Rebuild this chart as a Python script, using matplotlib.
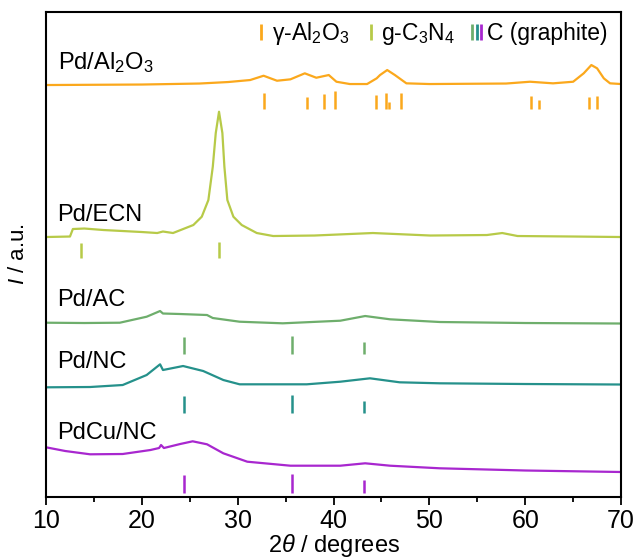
import matplotlib
matplotlib.use('Agg')
import matplotlib.pyplot as plt
from matplotlib.lines import Line2D
from matplotlib.legend_handler import HandlerTuple

plt.rcParams['font.family'] = ['Liberation Sans', 'DejaVu Sans']
plt.rcParams['mathtext.fontset'] = 'custom'
plt.rcParams['mathtext.rm'] = 'Liberation Sans'
plt.rcParams['mathtext.it'] = 'Liberation Sans:italic'

# colours of the five patterns
c_al = '#FBA81C'
c_ecn = '#B7CA48'
c_ac = '#6EAE6C'
c_nc = '#25918B'
c_cu = '#A827CF'

# XRD traces (2theta, stacked intensity in a.u.)
al_x = [10, 20, 26, 29, 31.3, 32.7, 34.1, 35.5, 37.0, 38.2, 39.5, 40.3, 41.7, 43.5,
        44.5, 44.85, 45.6, 46.4, 47.6, 50, 58, 60.5, 62.9, 65.0, 66.1, 66.9, 67.5,
        68.2, 68.85, 70]
al_y = [412, 412.5, 413.5, 415, 417, 421.3, 416.3, 417.7, 423.7, 419.3, 422, 415.3, 413, 413,
        418.7, 422, 427, 422, 413.7, 413, 413.5, 415.3, 413.7, 415.3, 423.7, 432, 428.7,
        418.7, 413.7, 413]

ecn_x = [10, 12.5, 12.8, 14, 16, 18, 20, 21.6, 22.2, 23.25, 25.37, 26.25, 26.94, 27.40,
         27.71, 28.05, 28.40, 28.61, 28.92, 29.55, 30.42, 31.99, 33.7, 38, 44.1, 50.1,
         56, 57.6, 59.2, 65, 70]
ecn_y = [260, 260.5, 268, 268.5, 267, 266, 265, 264, 265.5, 264, 272, 280.3, 297, 330.3,
         364, 385.3, 364, 330.3, 297, 280.3, 272, 264, 261, 261.5, 264, 261.5,
         262, 264, 261, 260.5, 260]

ac_x = [10, 14, 17.7, 20.5, 21.9, 22.2, 24, 26.8, 27.4, 30.2, 34.7, 40.7, 43.3, 45.9,
        51.1, 60, 70]
ac_y = [174.3, 174, 174.3, 180.3, 186, 183.5, 183, 182, 179, 175.3, 173.7, 176.3, 181,
        177.7, 175, 174, 173.5]

nc_x = [10, 14.6, 18.0, 20.5, 21.9, 22.2, 24.3, 26.4, 28.5, 30.2, 37.2, 40.7, 43.8,
        46.9, 51.1, 60, 70]
nc_y = [109.7, 110, 112, 122, 132.7, 127, 131, 126, 117, 112.7, 112.7, 115.3, 118.7,
        114.7, 113.7, 113, 112.5]

cu_x = [10, 12, 14.6, 18.0, 20.9, 21.8, 22.0, 22.3, 24, 25.3, 26.8, 28.5, 31, 35.5,
        40.7, 43.3, 45.9, 51.1, 60, 70]
cu_y = [49.7, 46, 42.7, 43, 47, 49, 52, 49, 53, 55.7, 52.7, 43.7, 35.3, 31.3,
        31.3, 33.7, 31.3, 28.7, 26.5, 25]

# reference patterns (position, bar height)
al_ref_x = [32.75, 37.2, 39.0, 40.1, 44.4, 45.45, 45.76, 47.0, 60.6, 61.4, 66.7, 67.5]
al_ref_h = [16, 12, 15, 18, 14, 16, 7, 16, 13, 9, 12, 13]
cn_ref_x = [13.65, 28.1]
cn_ref_h = [15, 16]
gr_ref_x = [24.4, 35.7, 43.2]
gr_ref_h = [17, 18, 12]

traces = [
    ('Pd/Al$_2$O$_3$', al_x, al_y, c_al, 428),
    ('Pd/ECN', ecn_x, ecn_y, c_ecn, 276),
    ('Pd/AC', ac_x, ac_y, c_ac, 191),
    ('Pd/NC', nc_x, nc_y, c_nc, 129),
    ('PdCu/NC', cu_x, cu_y, c_cu, 58),
]

fig = plt.figure(figsize=(6.34, 5.6), dpi=100)
ax = fig.add_axes([0.0726, 0.1125, 0.907, 0.866])

for name, xs, ys, col, ty in traces:
    ax.plot(xs, ys, color=col, lw=1.6)
    ax.text(11.2, ty, name, fontsize=17, va='baseline', ha='left')

ax.vlines(al_ref_x, 388, [388 + h for h in al_ref_h], color=c_al, lw=1.8)
ax.vlines(cn_ref_x, 239, [239 + h for h in cn_ref_h], color=c_ecn, lw=1.8)
ax.vlines(gr_ref_x, 143, [143 + h for h in gr_ref_h], color=c_ac, lw=1.8)
ax.vlines(gr_ref_x, 84, [84 + h for h in gr_ref_h], color=c_nc, lw=1.8)
ax.vlines(gr_ref_x, 4, [4 + h + 1 for h in gr_ref_h], color=c_cu, lw=1.8)

ax.set_xlim(10, 70)
ax.set_ylim(0, 485)
ax.set_xticks(range(10, 71, 10))
ax.set_xticks(range(15, 70, 10), minor=True)
ax.set_yticks([])
ax.tick_params(axis='x', which='major', direction='out', length=6, width=1.3, labelsize=18, pad=3)
ax.tick_params(axis='x', which='minor', direction='out', length=3.5, width=1.3)
for s in ax.spines.values():
    s.set_linewidth(1.5)

ax.set_xlabel(r'2$\theta$ / degrees', fontsize=17, labelpad=-1)
ax.set_ylabel(r'$I$ / a.u.', fontsize=16, labelpad=12)

def bar(col):
    return Line2D([], [], ls='none', marker='|', markersize=12, markeredgewidth=2, color=col)

handles = [bar(c_al), bar(c_ecn), (bar(c_ac), bar(c_nc), bar(c_cu))]
labels = ['γ-Al$_2$O$_3$', 'g-C$_3$N$_4$', 'C (graphite)']
ax.legend(handles, labels, handler_map={tuple: HandlerTuple(ndivide=None, pad=0)},
          ncol=3, loc='upper right', bbox_to_anchor=(1.005, 1.016), frameon=False,
          fontsize=16.5, handlelength=0.55, handletextpad=0.2, columnspacing=0.65,
          borderaxespad=0.3)

fig.savefig('out.png', dpi=100)
